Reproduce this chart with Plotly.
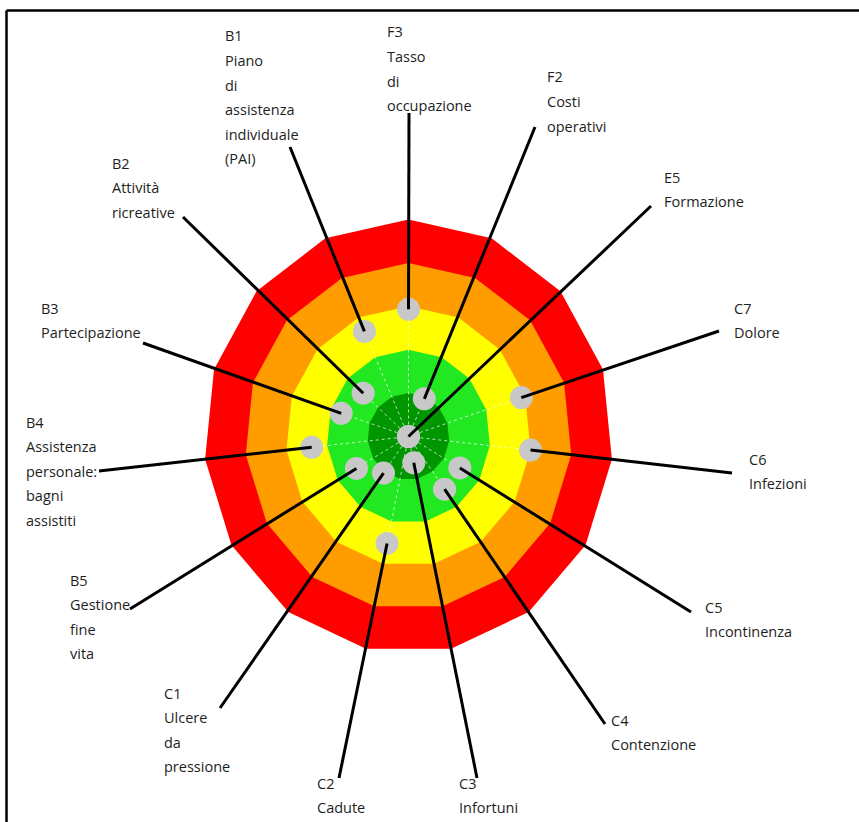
import numpy as np
import plotly.graph_objects as go

# ---------------- data ----------------
categories = ["F3", "F2", "E5", "C7", "C6", "C5", "C4", "C3", "C2", "C1", "B5", "B4", "B3", "B2", "B1"]
values = [2.93, 0.95, 0.0, 2.9, 3.0, 1.45, 1.5, 0.62, 2.52, 1.04, 1.47, 2.38, 1.73, 1.49, 2.65]
label_lines = {
    "F3": ["F3", "Tasso", "di", "occupazione"],
    "F2": ["F2", "Costi", "operativi"],
    "E5": ["E5", "Formazione"],
    "C7": ["C7", "Dolore"],
    "C6": ["C6", "Infezioni"],
    "C5": ["C5", "Incontinenza"],
    "C4": ["C4", "Contenzione"],
    "C3": ["C3", "Infortuni"],
    "C2": ["C2", "Cadute"],
    "C1": ["C1", "Ulcere", "da", "pressione"],
    "B5": ["B5", "Gestione", "fine", "vita"],
    "B4": ["B4", "Assistenza", "personale:", "bagni", "assistiti"],
    "B3": ["B3", "Partecipazione"],
    "B2": ["B2", "Attività", "ricreative"],
    "B1": ["B1", "Piano", "di", "assistenza", "individuale", "(PAI)"],
}
ring_levels = [5, 4, 3, 2, 1]
ring_colors = ["#ff0000", "#ff9c00", "#ffff00", "#22e822", "#009600"]

# ---------------- layout (pixels) ----------------
W, H = 859, 822
CX, CY = 408.5, 436.5
UX, UY = 40.9, 43.4
LINE_STEP = 24.5

label_pos = {  # left x, first-line centre y
    "F3": (387, 32), "F2": (547, 77), "E5": (664, 177), "C7": (734, 308),
    "C6": (749, 459), "C5": (705, 607), "C4": (611, 720), "C3": (459, 783),
    "C2": (317, 783), "C1": (164, 693), "B5": (70, 580), "B4": (26, 422),
    "B3": (41, 308), "B2": (112, 163), "B1": (225, 36),
}
leader_anchor = {
    "F3": (409, 113), "F2": (535, 127), "E5": (651, 206), "C7": (719, 331),
    "C6": (732, 473), "C5": (691, 612), "C4": (605, 724), "C3": (477, 778),
    "C2": (339, 778), "C1": (220, 708), "B5": (130, 609), "B4": (99, 471),
    "B3": (143, 343), "B2": (183, 217), "B1": (290, 147),
}


def px_to_data(px, py):
    return (px - CX) / UX, (CY - py) / UY


n = len(categories)
bearings = np.deg2rad(np.arange(n) * 360.0 / n)

fig = go.Figure()

# rings (15-gons)
for lvl, col in zip(ring_levels, ring_colors):
    xs = list(lvl * np.sin(bearings)) + [lvl * np.sin(bearings[0])]
    ys = list(lvl * np.cos(bearings)) + [lvl * np.cos(bearings[0])]
    fig.add_trace(go.Scatter(x=xs, y=ys, mode="lines", fill="toself",
                             fillcolor=col, line=dict(width=0, color=col),
                             hoverinfo="skip", showlegend=False))

vals = np.array(values)
dx = vals * np.sin(bearings)
dy = vals * np.cos(bearings)

# dotted spokes
sx, sy = [], []
for x, y in zip(dx, dy):
    sx += [0, x, None]
    sy += [0, y, None]
fig.add_trace(go.Scatter(x=sx, y=sy, mode="lines",
                         line=dict(color="rgba(255,255,255,0.7)", width=1, dash="dot"),
                         hoverinfo="skip", showlegend=False))

# centre dot
fig.add_trace(go.Scatter(x=[0], y=[0], mode="markers",
                         marker=dict(size=23, color="#c8c8c8", line=dict(width=0)),
                         hoverinfo="skip", showlegend=False))
# value dots
fig.add_trace(go.Scatter(x=dx, y=dy, mode="markers", text=categories,
                         marker=dict(size=23, color="#c8c8c8", line=dict(width=0)),
                         hoverinfo="text", showlegend=False))

# leader lines
lx, ly = [], []
for cat, x, y in zip(categories, dx, dy):
    ax, ay = px_to_data(*leader_anchor[cat])
    lx += [ax, x, None]
    ly += [ay, y, None]
fig.add_trace(go.Scatter(x=lx, y=ly, mode="lines", line=dict(color="black", width=3),
                         hoverinfo="skip", showlegend=False))

# labels
annotations = []
for cat in categories:
    x0, y0 = label_pos[cat]
    for i, t in enumerate(label_lines[cat]):
        py = y0 + i * LINE_STEP
        annotations.append(dict(x=x0 / W, y=1 - py / H, xref="paper", yref="paper",
                                text=t, showarrow=False, xanchor="left", yanchor="middle",
                                xshift=-2,
                                font=dict(family="Open Sans", size=14.5, color="#1e1e1e")))

shapes = [
    dict(type="line", xref="paper", yref="paper", x0=6.5 / W, x1=6.5 / W,
         y0=0, y1=1 - 10.5 / H, line=dict(color="black", width=2.5)),
    dict(type="line", xref="paper", yref="paper", x0=6.5 / W, x1=1,
         y0=1 - 10.5 / H, y1=1 - 10.5 / H, line=dict(color="black", width=2.5)),
]

fig.update_layout(
    width=W, height=H, autosize=False,
    margin=dict(l=0, r=0, t=0, b=0),
    paper_bgcolor="white", plot_bgcolor="white",
    xaxis=dict(range=[-CX / UX, (W - CX) / UX], visible=False, fixedrange=True),
    yaxis=dict(range=[-(H - CY) / UY, CY / UY], visible=False, fixedrange=True),
    annotations=annotations, shapes=shapes, showlegend=False,
)

fig.write_html("out.html", config={"displayModeBar": False},
               post_script="document.body.style.margin='0';document.body.style.overflow='hidden';")
